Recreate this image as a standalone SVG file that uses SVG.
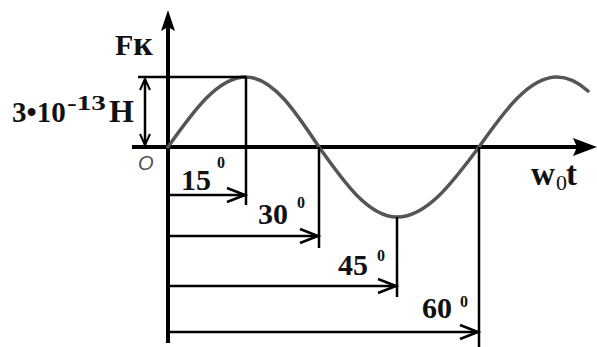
<svg xmlns="http://www.w3.org/2000/svg" width="597" height="347" viewBox="0 0 597 347">
<style>
.ln{stroke:#000;stroke-width:2.5;fill:none}
.ax{stroke:#000;stroke-width:4;fill:none}
.curve{stroke:#555;stroke-width:3.5;fill:none;stroke-linecap:round}
.t{font-family:"Liberation Serif","Times New Roman",serif;font-weight:bold;fill:#111}
</style>
<defs>
<marker id="open" markerUnits="userSpaceOnUse" markerWidth="24" markerHeight="20" viewBox="-20 -10 24 20" refX="0" refY="0" orient="auto">
<path d="M-18,-7 L0,0 L-18,7" stroke="#000" stroke-width="2.5" fill="none"/>
</marker>
<marker id="openS" markerUnits="userSpaceOnUse" markerWidth="16" markerHeight="16" viewBox="-14 -8 16 16" refX="0" refY="0" orient="auto-start-reverse">
<path d="M-11,-5 L0,0 L-11,5" stroke="#000" stroke-width="2" fill="none"/>
</marker>
</defs>
<rect width="597" height="347" fill="#fff"/>
<g id="axes">
<line class="ax" x1="132" y1="147" x2="580" y2="147"/>
<path d="M597,147 L573,138 L577,147 L573,156 Z" fill="#000"/>
<line class="ax" x1="168" y1="343" x2="168" y2="26"/>
<path d="M168,10 L161,31 L168,27 L175,31 Z" fill="#000"/>
</g>
<g id="curve">
<path class="curve" d="M168,147 C193.4,111.1 217.8,77 246,77 C272.4,77 295.2,111.1 319,147 C344.4,182.9 368.8,217 397,217 C426.7,217 452.3,182.9 479,147 C504.4,111.1 528.8,77 557,77 C567,77 578,82 588,91"/>
</g>
<g id="guides">
<line class="ln" x1="138" y1="77" x2="246" y2="77"/>
<line class="ln" x1="246" y1="77" x2="246" y2="205"/>
<line class="ln" x1="319" y1="147" x2="319" y2="248"/>
<line class="ln" x1="397" y1="217" x2="397" y2="297"/>
<line class="ln" x1="479" y1="147" x2="479" y2="347"/>
</g>
<g id="connectors">
<line class="ln" x1="145" y1="79" x2="145" y2="145" marker-start="url(#openS)" marker-end="url(#openS)"/>
<line class="ln" x1="170" y1="195" x2="245" y2="195" marker-end="url(#open)"/>
<line class="ln" x1="170" y1="236" x2="318" y2="236" marker-end="url(#open)"/>
<line class="ln" x1="170" y1="286" x2="396" y2="286" marker-end="url(#open)"/>
<line class="ln" x1="170" y1="332" x2="478" y2="332" marker-end="url(#open)"/>
</g>
<g id="label-F">
<text class="t" x="115" y="55" font-size="30">F<tspan font-size="34">к</tspan></text>
</g>
<g id="label-amp">
<text class="t" x="12" y="122" font-size="29">3•10</text>
<text class="t" x="67" y="110" font-size="20" textLength="39" lengthAdjust="spacingAndGlyphs">-13</text>
<text class="t" x="109" y="122" font-size="32">H</text>
</g>
<g id="label-O">
<text x="138" y="170" font-family="Liberation Sans, Arial, sans-serif" font-style="italic" font-size="20" fill="#555">O</text>
</g>
<g id="label-w">
<text class="t" x="531" y="185" font-size="33">w<tspan x="556" y="190" font-size="22" font-weight="normal">0</tspan><tspan x="566" y="185">t</tspan></text>
</g>
<g id="label-15">
<text class="t" x="181" y="190" font-size="30">15</text>
<text class="t" x="217" y="168" font-size="16">0</text>
</g>
<g id="label-30">
<text class="t" x="258" y="224" font-size="30">30</text>
<text class="t" x="297" y="208" font-size="16">0</text>
</g>
<g id="label-45">
<text class="t" x="338" y="275" font-size="30">45</text>
<text class="t" x="377" y="261" font-size="16">0</text>
</g>
<g id="label-60">
<text class="t" x="422" y="318" font-size="30">60</text>
<text class="t" x="460" y="307" font-size="16">0</text>
</g>
</svg>
